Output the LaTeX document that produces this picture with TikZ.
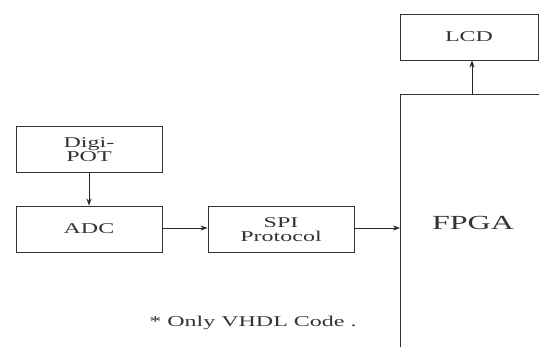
\documentclass[tikz,border=0pt]{standalone}
\usepackage{fontspec}
\setmainfont{Liberation Serif}[FakeStretch=1.6]
\usetikzlibrary{arrows.meta}
\tikzset{
  blk/.style={draw=black!80, line width=0.9pt, minimum width=146pt, minimum height=46pt, align=center, inner sep=0pt, text=black!80, font=\fontsize{15}{14}\selectfont},
  conn/.style={draw=black!85, line width=0.9pt, -{Stealth[length=7pt,width=5pt]}},
}
\begin{document}
\begin{tikzpicture}[x=1pt,y=-1pt]
\useasboundingbox (0,0) rectangle (539,346);
\clip (0,0) rectangle (539,346);
\node[blk] (digi) at (89,149.5) {Digi-\\POT};
\node[blk] (adc) at (89,229) {ADC};
\node[blk] (spi) at (281,229.5) {SPI\\Protocol};
\node[blk, minimum width=138pt] (lcd) at (469,37) {LCD};
\node[draw=black!80, line width=0.9pt, minimum width=200pt, minimum height=330pt, anchor=north west, inner sep=0pt] (fpga) at (400,94) {};
\node[text=black!80, font=\fontsize{20}{20}\selectfont] (fpgatxt) at (473,223) {FPGA};
\node[text=black!80, font=\fontsize{15}{15}\selectfont] (note) at (253,323) {* Only VHDL Code .};
\draw[conn] (digi) -- (adc);
\draw[conn] (adc.east |- 0,228) -- (spi.west |- 0,228);
\draw[conn] (spi.east |- 0,228) -- (fpga.west |- 0,228);
\draw[conn] (fpga.north -| 472,0) -- (lcd.south -| 472,0);
\end{tikzpicture}
\end{document}
